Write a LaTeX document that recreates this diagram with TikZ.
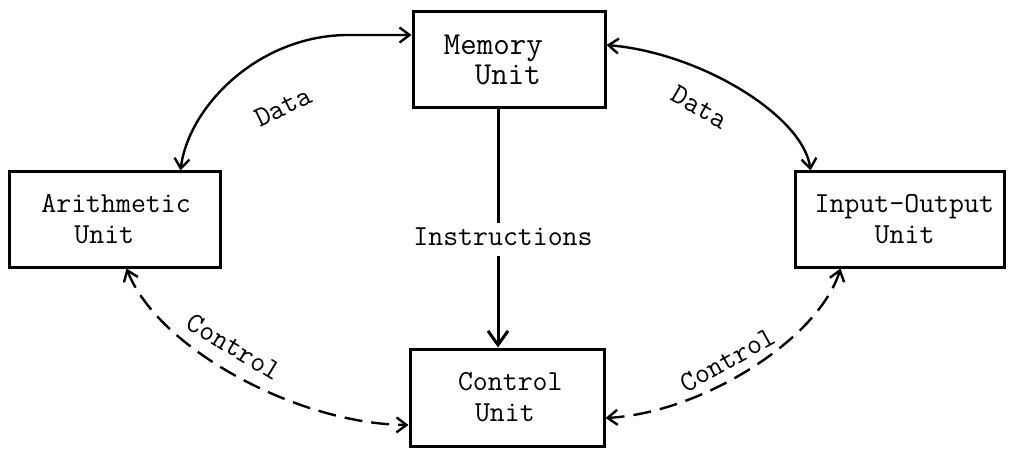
\documentclass[tikz,border=0pt]{standalone}
\usepackage{fontspec}
\usetikzlibrary{arrows.meta,calc}
\begin{document}
\begin{tikzpicture}[x=1pt,y=1pt,
  txt/.style={font=\ttfamily\fontsize{29}{31}\selectfont},
  unitbox/.style={txt, draw, line width=3pt, rectangle, inner sep=0pt, align=left},
  lbl/.style={txt, inner sep=1pt},
  link/.style={line width=2.4pt,
    {Straight Barb[length=10pt,width=15pt]}-{Straight Barb[length=10pt,width=15pt]}},
  ctl/.style={link, dash pattern=on 18pt off 9pt},
]
\useasboundingbox (0,0) rectangle (1013,448);

% the four units
\node[unitbox, font=\ttfamily\fontsize{32}{30}\selectfont,
      minimum width=192pt, minimum height=96pt] (mem) at (509,388)
  {Memory\hspace*{31.2pt}\\\hspace*{31pt}Unit};
\node[unitbox, minimum width=211pt, minimum height=95pt] (arith) at (114.5,228.5)
  {\hspace*{3.2pt}Arithmetic\\\hspace*{36.2pt}Unit};
\node[unitbox, minimum width=209pt, minimum height=95pt] (io) at (899.5,228.5)
  {\hspace*{9.7pt}Input-Output\\\hspace*{69.7pt}Unit};
\node[unitbox, minimum width=194pt, minimum height=97pt] (ctrl) at (507,50.5)
  {\hspace*{6.6pt}Control\\\hspace*{23.6pt}Unit};

% instruction path from memory to control
\node[lbl] (instr) at (503,211.5) {Instructions};
\coordinate (ix) at (498,0);
\draw[line width=3pt] (mem.south -| ix) -- ($(instr.north -| ix)+(0,3)$);
\draw[line width=3pt, -{Straight Barb[length=14pt,width=20pt]}]
  ($(instr.south -| ix)+(0,-9)$) -- (ctrl.north -| ix);

% data paths
\draw[link] ($(arith.north west)+(173,0)$) .. controls +(8,64) and +(-90,0) ..
  ($(mem.west)+(-63,25)$) -- ($(mem.west)+(0,25)$);
\draw[link] ($(mem.east)+(0,15)$) .. controls +(95,-8) and +(-7,54) ..
  ($(io.north west)+(17,0)$);
\node[lbl, rotate=26] (dl) at (283,341) {Data};
\node[lbl, rotate=-30] (dr) at (700,341) {Data};

% control paths
\draw[ctl] ($(arith.south west)+(119,0)$) .. controls +(32,-81) and +(-110,1) ..
  ($(ctrl.west)+(0,-27.5)$);
\draw[ctl] ($(io.south west)+(47,0)$) .. controls +(-22,-71) and +(96,5) ..
  ($(ctrl.east)+(0,-20.5)$);
\node[lbl, rotate=-31] (cl) at (234,101) {Control};
\node[lbl, rotate=29] (cr) at (728,88) {Control};
\end{tikzpicture}
\end{document}
